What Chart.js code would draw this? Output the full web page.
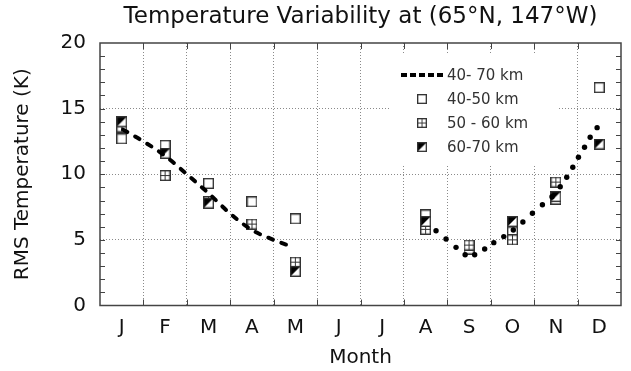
<!DOCTYPE html>
<html>
<head>
<meta charset="utf-8">
<script src="https://cdn.jsdelivr.net/npm/chart.js@4.4.1/dist/chart.umd.min.js"></script>
<style>
  html, body { margin: 0; padding: 0; background: #fff; }
</style>
</head>
<body>
<canvas id="myChart" width="631" height="371"></canvas>
<script>
// month letters on the x axis
const months = ['J', 'F', 'M', 'A', 'M', 'J', 'J', 'A', 'S', 'O', 'N', 'D'];

// months (0 = Jan) that have measurements
const markerMonths = [0, 1, 2, 3, 4, 7, 8, 9, 10, 11];
const rms40to50 = [12.7, 12.2, 9.3, 7.9, 6.6, 6.9, 4.3, 5.6, 8.1, 16.6];
const rms50to60 = [13.6, 9.9, 7.9, 6.2, 3.3, 5.8, 4.6, 5.0, 9.4, 12.3];
const rms60to70 = [14.0, 11.6, 7.8, null, 2.6, 6.4, null, 6.4, 8.3, 12.3];

// 40-70 km fit, winter branch (dashed) and autumn branch (dots), x in months
const fitWinterX = [0.53, 1.0, 1.5, 2.0, 2.5, 3.0, 3.5, 4.0, 4.36];
const fitWinterY = [13.4, 12.5, 11.4, 10.0, 8.55, 7.0, 5.75, 5.0, 4.55];
const fitAutumnX = [7.74, 7.97, 8.20, 8.41, 8.63, 8.86, 9.07, 9.30, 9.52, 9.74, 9.96,
                    10.19, 10.41, 10.60, 10.75, 10.89, 11.02, 11.16, 11.29, 11.45];
const fitAutumnY = [5.70, 5.07, 4.43, 3.87, 3.87, 4.31, 4.79, 5.25, 5.75, 6.36, 7.03,
                    7.68, 8.29, 9.05, 9.77, 10.53, 11.30, 12.06, 12.82, 13.55];

const yTicks = [0, 5, 10, 15, 20];

function makeMarker(kind) {
  const s = 11;
  const c = document.createElement('canvas');
  c.width = s; c.height = s;
  const g = c.getContext('2d');
  g.fillStyle = '#fff';
  g.fillRect(0, 0, s, s);
  if (kind === 'half') {
    g.fillStyle = '#000';
    g.beginPath(); g.moveTo(0, 0); g.lineTo(s, 0); g.lineTo(0, s); g.closePath(); g.fill();
  }
  g.strokeStyle = '#333';
  g.lineWidth = 1.4;
  g.strokeRect(0.7, 0.7, s - 1.4, s - 1.4);
  if (kind === 'cross') {
    g.lineWidth = 1;
    g.beginPath();
    g.moveTo(s / 2, 1); g.lineTo(s / 2, s - 1);
    g.moveTo(1, s / 2); g.lineTo(s - 1, s / 2);
    g.stroke();
  }
  return c;
}

const openBox = makeMarker('open');
const crossBox = makeMarker('cross');
const halfBox = makeMarker('half');

function pts(xs, ys) {
  return xs.map((x, i) => ({ x: x, y: ys[i] }));
}
function monthPts(vals) {
  return markerMonths.map((m, i) => ({ x: m + 0.5, y: vals[i] }));
}

const gridGray = '#8a8a8a';

// legend + frame + inward ticks
const framePlugin = {
  id: 'frame',
  afterDatasetsDraw(chart) {
    const ctx = chart.ctx;
    const ca = chart.chartArea;
    const xs = chart.scales.x, ys = chart.scales.y;

    // legend box inside plot
    const bx = ca.right - 232, by = ca.top + 12;
    ctx.save();
    ctx.fillStyle = '#fff';
    ctx.fillRect(bx, by, 170, 110);
    ctx.font = "15px 'DejaVu Sans'";
    ctx.fillStyle = '#333';
    ctx.textBaseline = 'middle';
    chart.data.datasets.forEach((ds, i) => {
      if (ds.legendRow === undefined) return;
      const ry = by + 20 + ds.legendRow * 24;
      if (ds.legendRow === 0) {
        ctx.save();
        ctx.strokeStyle = '#000';
        ctx.lineWidth = 4;
        ctx.setLineDash([6, 3]);
        ctx.beginPath();
        ctx.moveTo(bx + 12, ry); ctx.lineTo(bx + 57, ry);
        ctx.stroke();
        ctx.restore();
      } else {
        ctx.drawImage(ds.pointStyle, bx + 33 - 5, ry - 5, 10, 10);
      }
      ctx.fillText(ds.label, bx + 58, ry + 1);
    });
    ctx.restore();

    // frame
    ctx.save();
    ctx.strokeStyle = '#444';
    ctx.lineWidth = 1.5;
    ctx.strokeRect(ca.left, ca.top, ca.right - ca.left, ca.bottom - ca.top);
    ctx.lineWidth = 1;
    ctx.beginPath();
    for (let v = 1; v < 20; v++) {
      const py = Math.round(ys.getPixelForValue(v)) + 0.5;
      ctx.moveTo(ca.left, py); ctx.lineTo(ca.left + 5, py);
      ctx.moveTo(ca.right, py); ctx.lineTo(ca.right - 5, py);
    }
    for (let m = 1; m < 12; m++) {
      const px = Math.round(xs.getPixelForValue(m)) + 0.5;
      ctx.moveTo(px, ca.bottom); ctx.lineTo(px, ca.bottom - 6);
      ctx.moveTo(px, ca.top); ctx.lineTo(px, ca.top + 6);
    }
    ctx.stroke();
    ctx.restore();
  }
};

Chart.defaults.font.family = "'DejaVu Sans', sans-serif";
Chart.defaults.color = '#111';

const ctx = document.getElementById('myChart').getContext('2d');

const myChart = new Chart(ctx, {
  type: 'scatter',
  data: {
    datasets: [
      {
        label: '40- 70 km',
        legendRow: 0,
        data: pts(fitWinterX, fitWinterY),
        showLine: true,
        borderColor: '#000',
        borderWidth: 4,
        borderDash: [5, 9],
        borderCapStyle: 'round',
        cubicInterpolationMode: 'monotone',
        pointRadius: 0,
        order: 0
      },
      {
        label: '40- 70 km (autumn)',
        data: pts(fitAutumnX, fitAutumnY),
        showLine: false,
        pointStyle: 'circle',
        pointRadius: 2.7,
        backgroundColor: '#000',
        borderColor: '#000',
        borderWidth: 0,
        order: 0
      },
      {
        label: '40-50 km',
        legendRow: 1,
        data: monthPts(rms40to50),
        pointStyle: openBox,
        order: 3
      },
      {
        label: '50 - 60 km',
        legendRow: 2,
        data: monthPts(rms50to60),
        pointStyle: crossBox,
        order: 2
      },
      {
        label: '60-70 km',
        legendRow: 3,
        data: monthPts(rms60to70),
        pointStyle: halfBox,
        order: 1
      }
    ]
  },
  options: {
    responsive: false,
    animation: false,
    layout: { padding: { top: 0, right: 4, bottom: 0, left: 0 } },
    plugins: {
      legend: { display: false },
      tooltip: { enabled: false },
      title: { display: false }
    },
    scales: {
      x: {
        type: 'linear',
        position: 'bottom',
        min: 0,
        max: 12,
        afterFit: (s) => { s.height = 65.5; },
        ticks: {
          stepSize: 0.5,
          autoSkip: false,
          maxRotation: 0,
          padding: 10,
          font: { size: 20 },
          color: '#111',
          callback: (v) => Number.isInteger(v) ? '' : months[Math.floor(v)]
        },
        grid: {
          drawTicks: false,
          color: (c) => (c.tick && Number.isInteger(c.tick.value) && c.tick.value > 0 && c.tick.value < 12) ? gridGray : 'rgba(0,0,0,0)',
          lineWidth: 1
        },
        border: { display: false, dash: [1, 2] },
        title: {
          display: true,
          text: 'Month',
          font: { size: 20 },
          color: '#111',
          padding: { top: 0, bottom: 1 }
        }
      },
      top: {
        type: 'linear',
        position: 'top',
        min: 0,
        max: 12,
        afterFit: (s) => { s.height = 43; },
        ticks: { display: false },
        grid: { display: false, drawTicks: false },
        border: { display: false },
        title: {
          display: true,
          text: 'Temperature Variability at (65°N, 147°W)',
          font: { size: 23 },
          color: '#111',
          padding: { top: 3, bottom: 0 }
        }
      },
      y: {
        type: 'linear',
        min: 0,
        max: 20,
        afterFit: (s) => { s.width = 100; },
        afterBuildTicks: (s) => { s.ticks = yTicks.map(v => ({ value: v })); },
        ticks: {
          padding: 14,
          font: { size: 20 },
          color: '#111'
        },
        grid: {
          drawTicks: false,
          color: (c) => (c.tick && c.tick.value > 0 && c.tick.value < 20) ? gridGray : 'rgba(0,0,0,0)',
          lineWidth: 1
        },
        border: { display: false, dash: [1, 2] },
        title: {
          display: true,
          text: 'RMS Temperature (K)',
          font: { size: 20 },
          color: '#111',
          padding: { top: 11, bottom: 0 }
        }
      }
    }
  },
  plugins: [framePlugin]
});
</script>
</body>
</html>
